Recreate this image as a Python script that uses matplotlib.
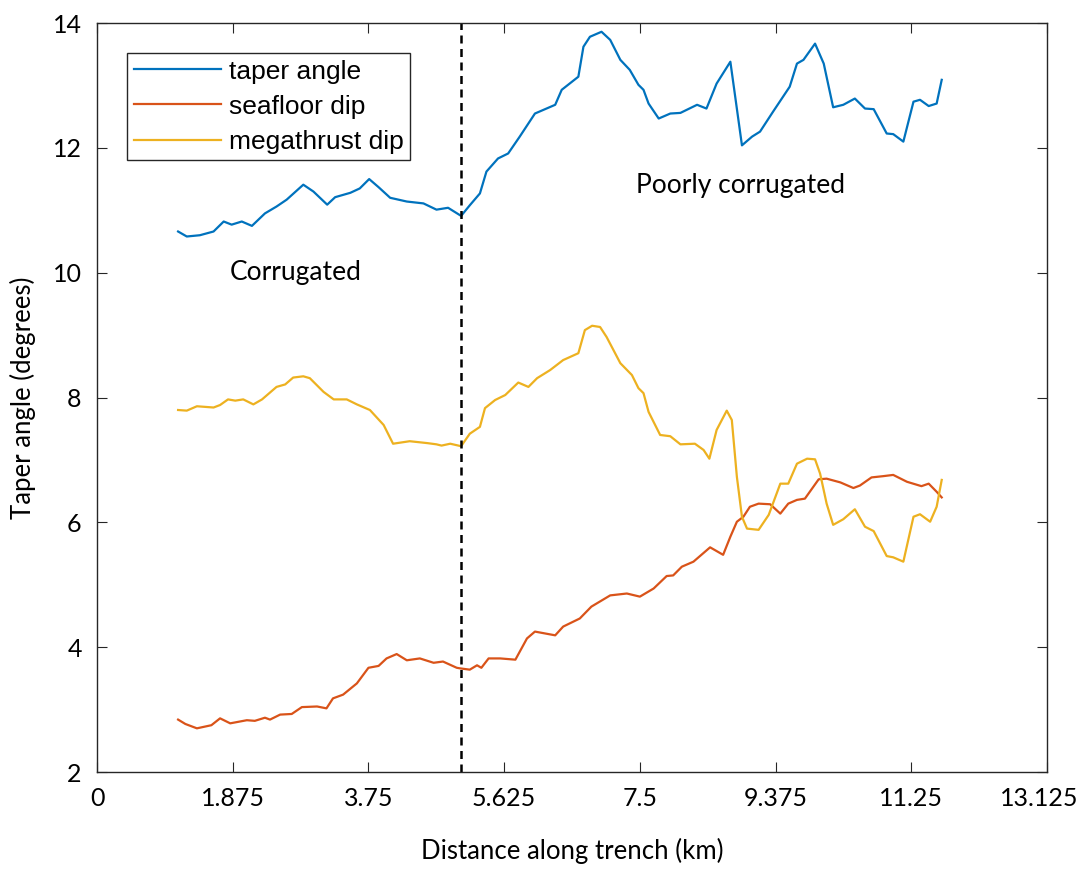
import matplotlib
matplotlib.use("Agg")
from matplotlib import pyplot as plt
from matplotlib.transforms import ScaledTranslation

# taper angle (blue)
taper_x = [1.12, 1.24, 1.42, 1.61, 1.75, 1.86, 2.00, 2.14, 2.32, 2.48, 2.62, 2.85, 2.99, 3.18, 3.29,
           3.50, 3.63, 3.76, 3.89, 4.05, 4.28, 4.51, 4.69, 4.85, 5.03, 5.15, 5.29, 5.38, 5.54, 5.68,
           5.84, 6.05, 6.33, 6.42, 6.65, 6.72, 6.81, 6.97, 7.09, 7.23, 7.36, 7.48, 7.55, 7.62, 7.76,
           7.92, 8.06, 8.29, 8.42, 8.56, 8.75, 8.91, 9.05, 9.16, 9.34, 9.57, 9.67, 9.76, 9.92, 10.04,
           10.17, 10.31, 10.47, 10.61, 10.73, 10.91, 11.00, 11.14, 11.28, 11.37, 11.49, 11.60, 11.67]
taper_y = [10.66, 10.58, 10.60, 10.66, 10.82, 10.77, 10.82, 10.75, 10.95, 11.06, 11.17, 11.41, 11.30, 11.09, 11.21,
           11.28, 11.35, 11.50, 11.37, 11.20, 11.14, 11.11, 11.01, 11.04, 10.91, 11.08, 11.27, 11.62, 11.83, 11.91,
           12.18, 12.55, 12.69, 12.93, 13.14, 13.62, 13.78, 13.86, 13.73, 13.41, 13.25, 13.01, 12.93, 12.71, 12.47,
           12.55, 12.56, 12.69, 12.63, 13.03, 13.38, 12.04, 12.18, 12.26, 12.58, 12.98, 13.35, 13.41, 13.67, 13.35,
           12.65, 12.69, 12.79, 12.63, 12.62, 12.23, 12.22, 12.10, 12.74, 12.77, 12.67, 12.71, 13.09]

# seafloor dip (red)
sea_x = [1.12, 1.22, 1.38, 1.58, 1.70, 1.84, 2.07, 2.18, 2.32, 2.39, 2.53, 2.69, 2.83, 3.04, 3.17,
         3.26, 3.40, 3.59, 3.75, 3.89, 4.00, 4.14, 4.28, 4.46, 4.65, 4.78, 4.97,
         5.02, 5.15, 5.25, 5.31, 5.41, 5.57, 5.78, 5.94, 6.05, 6.33, 6.44, 6.67, 6.83, 7.09, 7.32,
         7.50, 7.69, 7.87, 7.96, 8.08, 8.24, 8.47, 8.65, 8.75, 8.84, 8.93, 9.02, 9.14, 9.30, 9.44,
         9.55, 9.67, 9.78, 9.97, 10.08, 10.27, 10.45, 10.54, 10.70, 10.86, 11.00, 11.19, 11.39, 11.49,
         11.60, 11.67]
sea_y = [2.84, 2.77, 2.70, 2.75, 2.86, 2.78, 2.83, 2.82, 2.87, 2.84, 2.92, 2.93, 3.04, 3.05, 3.02,
         3.18, 3.24, 3.42, 3.67, 3.70, 3.82, 3.89, 3.79, 3.82, 3.75, 3.77, 3.67,
         3.66, 3.64, 3.71, 3.67, 3.82, 3.82, 3.80, 4.14, 4.25, 4.19, 4.33, 4.46, 4.65, 4.83, 4.86,
         4.81, 4.94, 5.14, 5.15, 5.29, 5.37, 5.60, 5.48, 5.77, 6.01, 6.09, 6.25, 6.30, 6.29, 6.14,
         6.30, 6.36, 6.38, 6.69, 6.70, 6.64, 6.55, 6.59, 6.72, 6.74, 6.76, 6.65, 6.58, 6.62,
         6.49, 6.40]

# megathrust dip (yellow)
mega_x = [1.12, 1.24, 1.38, 1.61, 1.70, 1.81, 1.91, 2.02, 2.16, 2.28, 2.48, 2.60, 2.71, 2.85, 2.94,
          3.13, 3.27, 3.45, 3.59, 3.77, 3.96, 4.09, 4.32, 4.56, 4.69, 4.76, 4.88, 5.03, 5.15, 5.29,
          5.36, 5.50, 5.64, 5.82, 5.96, 6.08, 6.26, 6.44, 6.65, 6.74, 6.84, 6.95, 7.04, 7.23, 7.39,
          7.48, 7.55, 7.62, 7.78, 7.92, 8.06, 8.26, 8.38, 8.46, 8.56, 8.70, 8.77, 8.84, 8.91, 8.98,
          9.14, 9.28, 9.44, 9.55, 9.67, 9.81, 9.92, 9.99, 10.08, 10.17, 10.31, 10.47, 10.61, 10.73, 10.91,
          11.00, 11.14, 11.28, 11.37, 11.51, 11.60, 11.67]
mega_y = [7.80, 7.79, 7.86, 7.84, 7.88, 7.97, 7.95, 7.97, 7.89, 7.97, 8.17, 8.21, 8.32, 8.34, 8.31,
          8.09, 7.97, 7.97, 7.89, 7.80, 7.56, 7.26, 7.30, 7.27, 7.25, 7.23, 7.26, 7.22, 7.42, 7.53,
          7.83, 7.96, 8.04, 8.24, 8.17, 8.31, 8.44, 8.60, 8.71, 9.08, 9.15, 9.13, 8.97, 8.55, 8.36,
          8.15, 8.07, 7.77, 7.40, 7.38, 7.25, 7.26, 7.16, 7.02, 7.48, 7.79, 7.64, 6.73, 6.09, 5.90,
          5.88, 6.12, 6.62, 6.62, 6.94, 7.02, 7.01, 6.78, 6.30, 5.96, 6.05, 6.21, 5.93, 5.86, 5.46,
          5.44, 5.37, 6.09, 6.13, 6.01, 6.25, 6.68]

boundary_x = 5.03
x_ticks = [0, 1.875, 3.75, 5.625, 7.5, 9.375, 11.25, 13.125]
x_tick_labels = ['0', '1.875', '3.75', '5.625', '7.5', '9.375', '11.25', '13.125']
y_ticks = [2, 4, 6, 8, 10, 12, 14]

plt.rcParams['font.family'] = ['Lato', 'DejaVu Sans']

fig = plt.figure(figsize=(10.84, 8.69), dpi=100)
ax = fig.add_axes([0.0895, 0.1116, 0.8764, 0.8619])

ax.plot(taper_x, taper_y, color='#0072BD', lw=1.6, label='taper angle')
ax.plot(sea_x, sea_y, color='#D95319', lw=1.6, label='seafloor dip')
ax.plot(mega_x, mega_y, color='#EDB120', lw=1.6, label='megathrust dip')
ax.axvline(boundary_x, color='black', ls=(0, (3.2, 2.2)), lw=1.8)

ax.text(1.84, 10.0, 'Corrugated', fontsize=19, va='center', ha='left')
ax.text(7.45, 11.39, 'Poorly corrugated', fontsize=19, va='center', ha='left')

ax.set_xlim(0, 13.125)
ax.set_ylim(2, 14)
ax.set_xticks(x_ticks)
ax.set_xticklabels(x_tick_labels)
ax.set_yticks(y_ticks)
ax.tick_params(direction='in', length=7, width=0.8, color='#262626', labelsize=18,
               top=True, right=True, pad=11)
for s in ax.spines.values():
    s.set_color('#262626')
    s.set_linewidth(1.0)

# last tick label sits a little left so it stays inside the figure
last = ax.get_xticklabels()[-1]
last.set_transform(last.get_transform() + ScaledTranslation(-0.08, 0, fig.dpi_scale_trans))

ax.set_xlabel('Distance along trench (km)', fontsize=18.5, labelpad=20)
ax.set_ylabel('Taper angle (degrees)', fontsize=18.5, labelpad=12)

leg = ax.legend(loc='upper left', bbox_to_anchor=(0.0316, 0.960), borderaxespad=0,
                fancybox=False, edgecolor='#262626', framealpha=1, handlelength=3.3,
                handletextpad=0.3, labelspacing=0.42, borderpad=0.25,
                prop={'family': 'Liberation Sans', 'size': 19})
leg.get_frame().set_linewidth(1.0)

plt.savefig('out.png', dpi=100)
